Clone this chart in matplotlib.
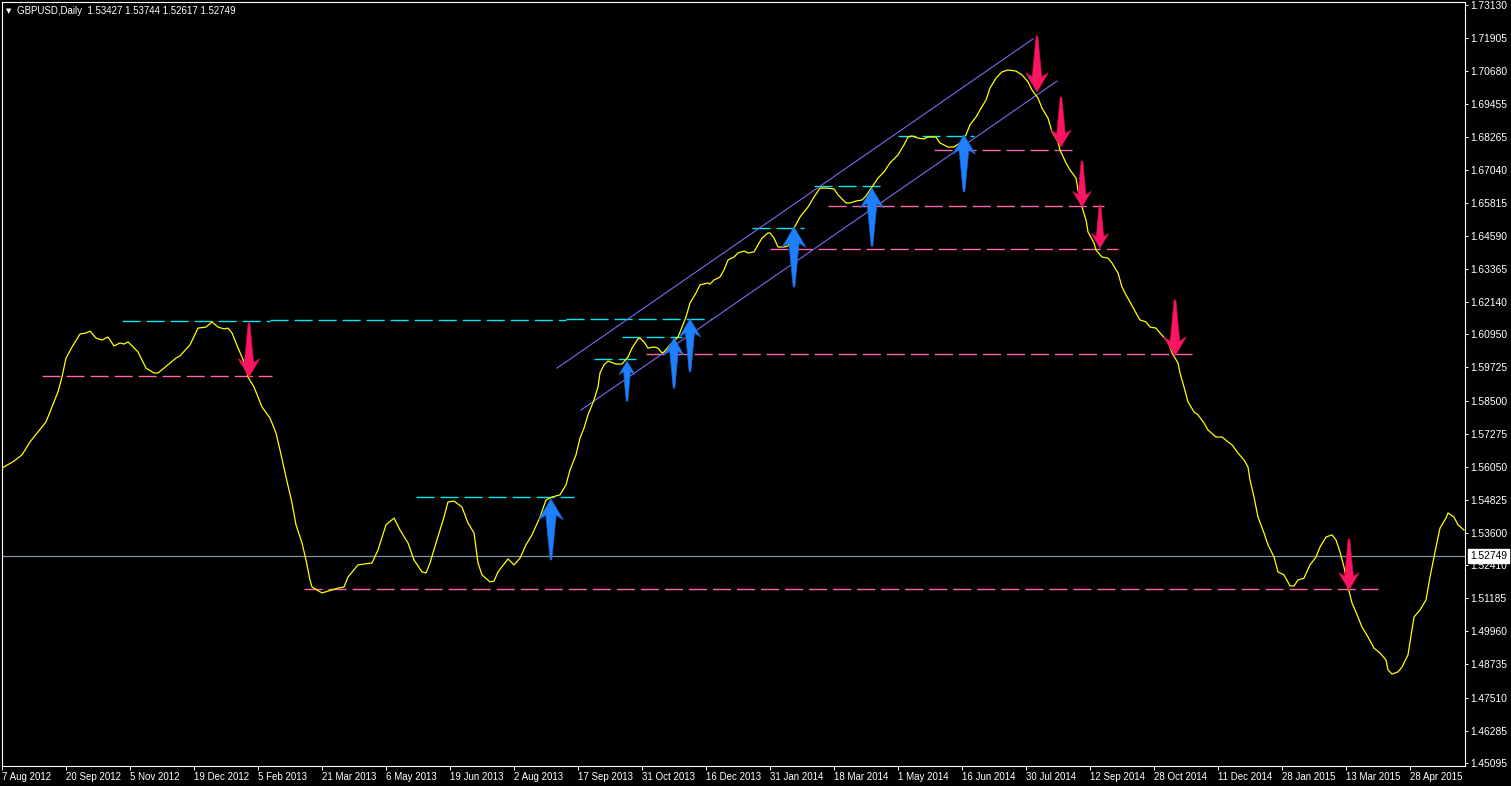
import numpy as np
import matplotlib
matplotlib.use("Agg")
import matplotlib.pyplot as plt
import matplotlib.transforms as mtransforms
from matplotlib.patches import Polygon

plt.rcParams['font.family'] = ['Liberation Sans', 'DejaVu Sans']

# ---------------- data ----------------
# bar index (daily bars since 7 Aug 2012) and smoothed GBPUSD value
bar_idx = [0, 6, 10, 14, 18, 22, 25, 28, 30, 32, 35, 39, 42, 44, 47, 50, 53, 56, 59, 61, 63,
           68, 72, 76, 78, 81, 87, 89, 94, 98, 102, 105, 108, 111, 113, 115, 117, 121, 123, 126,
           130, 134, 137, 139, 142, 145, 147, 150, 152, 154, 155, 160, 165, 168, 171, 173, 178,
           185, 188, 192, 196, 199, 203, 206, 210, 212, 214, 217, 221, 223, 226, 230, 233, 236,
           238, 240, 244, 246, 248, 253, 256, 259, 262, 265, 269, 272, 275, 279, 282, 284, 287,
           289, 291, 293, 296, 298, 299, 301, 303, 307, 310, 313, 315, 318, 319, 321, 323, 326,
           328, 330, 331, 334, 338, 340, 342, 344, 347, 349, 353, 354, 356, 359, 361, 363, 366,
           368, 371, 373, 376, 378, 380, 383, 384, 386, 388, 391, 393, 396, 399, 403, 406, 409,
           412, 416, 418, 422, 424, 427, 430, 432, 435, 438, 441, 444, 448, 451, 453, 455, 458,
           461, 463, 467, 469, 473, 476, 479, 482, 484, 487, 489, 492, 494, 497, 500, 503, 507,
           510, 513, 515, 518, 520, 523, 525, 528, 529, 532, 534, 537, 538, 540, 542, 543, 546,
           547, 550, 553, 555, 558, 560, 562, 564, 567, 569, 572, 574, 577, 579, 583, 585, 588,
           589, 591, 593, 596, 598, 601, 603, 607, 610, 613, 615, 618, 621, 623, 624, 626, 628,
           631, 633, 636, 638, 641, 644, 646, 648, 651, 654, 657, 659, 662, 665, 667, 669, 671,
           673, 675, 678, 680, 683, 686, 689, 692, 693, 695, 698, 700, 703, 706, 709, 712, 714,
           717, 719, 722, 723, 726, 728, 731]
ma_value = [1.5600, 1.5626, 1.5649, 1.5697, 1.5734, 1.5771, 1.5826, 1.5882, 1.5937, 1.6007,
            1.6048, 1.6096, 1.6100, 1.6107, 1.6081, 1.6074, 1.6085, 1.6052, 1.6063, 1.6059,
            1.6067, 1.6030, 1.5970, 1.5952, 1.5952, 1.5970, 1.6007, 1.6015, 1.6056, 1.6118,
            1.6122, 1.6141, 1.6122, 1.6115, 1.6118, 1.6100, 1.6063, 1.5993, 1.5937, 1.5900,
            1.5826, 1.5785, 1.5730, 1.5667, 1.5567, 1.5471, 1.5390, 1.5323, 1.5260, 1.5186,
            1.5160, 1.5138, 1.5149, 1.5156, 1.5160, 1.5197, 1.5242, 1.5249, 1.5297, 1.5390,
            1.5415, 1.5371, 1.5323, 1.5260, 1.5216, 1.5212, 1.5249, 1.5323, 1.5419, 1.5475,
            1.5478, 1.5456, 1.5397, 1.5360, 1.5249, 1.5205, 1.5179, 1.5182, 1.5216, 1.5264,
            1.5242, 1.5267, 1.5316, 1.5353, 1.5419, 1.5482, 1.5493, 1.5501, 1.5538, 1.5593,
            1.5649, 1.5711, 1.5748, 1.5797, 1.5852, 1.5900, 1.5952, 1.5982, 1.5996, 1.5985,
            1.5985, 1.6011, 1.6044, 1.6078, 1.6081, 1.6067, 1.6044, 1.6048, 1.6044, 1.6026,
            1.6030, 1.6056, 1.6085, 1.6122, 1.6159, 1.6211, 1.6248, 1.6278, 1.6285, 1.6281,
            1.6296, 1.6307, 1.6333, 1.6370, 1.6381, 1.6396, 1.6403, 1.6396, 1.6400, 1.6426,
            1.6451, 1.6470, 1.6470, 1.6451, 1.6418, 1.6418, 1.6422, 1.6488, 1.6529, 1.6566,
            1.6603, 1.6636, 1.6636, 1.6633, 1.6611, 1.6581, 1.6581, 1.6588, 1.6592, 1.6607,
            1.6640, 1.6673, 1.6696, 1.6729, 1.6759, 1.6796, 1.6825, 1.6829, 1.6821, 1.6818,
            1.6825, 1.6825, 1.6803, 1.6788, 1.6788, 1.6803, 1.6833, 1.6870, 1.6899, 1.6925,
            1.6962, 1.7006, 1.7043, 1.7066, 1.7073, 1.7069, 1.7055, 1.7029, 1.6999, 1.6969,
            1.6932, 1.6895, 1.6844, 1.6807, 1.6777, 1.6729, 1.6703, 1.6673, 1.6629, 1.6566,
            1.6518, 1.6474, 1.6433, 1.6407, 1.6381, 1.6377, 1.6359, 1.6322, 1.6270, 1.6241,
            1.6215, 1.6174, 1.6148, 1.6141, 1.6122, 1.6118, 1.6100, 1.6067, 1.6026, 1.5989,
            1.5952, 1.5900, 1.5845, 1.5808, 1.5797, 1.5767, 1.5741, 1.5715, 1.5715, 1.5697,
            1.5686, 1.5656, 1.5630, 1.5604, 1.5556, 1.5493, 1.5419, 1.5360, 1.5316, 1.5271,
            1.5216, 1.5205, 1.5164, 1.5164, 1.5186, 1.5193, 1.5242, 1.5271, 1.5308, 1.5345,
            1.5353, 1.5334, 1.5290, 1.5234, 1.5160, 1.5101, 1.5049, 1.5012, 1.4975, 1.4934,
            1.4916, 1.4890, 1.4853, 1.4838, 1.4846, 1.4864, 1.4909, 1.5049, 1.5075, 1.5112,
            1.5197, 1.5308, 1.5378, 1.5415, 1.5434, 1.5419, 1.5390, 1.5371]

date_tick_bars = [0, 32, 64, 96, 128, 160, 192, 224, 256, 288, 320, 352, 384, 416, 448, 480,
                  512, 544, 576, 608, 640, 672, 704]
date_labels = ['7 Aug 2012', '20 Sep 2012', '5 Nov 2012', '19 Dec 2012', '5 Feb 2013',
               '21 Mar 2013', '6 May 2013', '19 Jun 2013', '2 Aug 2013', '17 Sep 2013',
               '31 Oct 2013', '16 Dec 2013', '31 Jan 2014', '18 Mar 2014', '1 May 2014',
               '16 Jun 2014', '30 Jul 2014', '12 Sep 2014', '28 Oct 2014', '11 Dec 2014',
               '28 Jan 2015', '13 Mar 2015', '28 Apr 2015']
price_ticks = [1.73130, 1.71905, 1.70680, 1.69455, 1.68265, 1.67040, 1.65815, 1.64590,
               1.63365, 1.62140, 1.60950, 1.59725, 1.58500, 1.57275, 1.56050, 1.54825,
               1.53600, 1.52410, 1.51185, 1.49960, 1.48735, 1.47510, 1.46285, 1.45095]

current_price = 1.52749
header_text = 'GBPUSD,Daily  1.53427 1.53744 1.52617 1.52749'

# horizontal dashed levels: price, first bar, last bar, kind
level_price = [1.5941, 1.6144, 1.6148, 1.6151, 1.5493, 1.5153, 1.6022, 1.6004, 1.6085,
               1.6488, 1.6411, 1.6644, 1.6570, 1.6829, 1.6777]
level_start = [20, 60, 134, 282, 207, 151, 322, 296, 310, 375, 384, 406, 413, 448, 466]
level_end = [135, 134, 282, 355, 286, 688, 595, 317, 340, 401, 558, 439, 551, 486, 535]
level_kind = ['sup', 'res', 'res', 'res', 'res', 'sup', 'sup', 'res', 'res', 'res', 'sup',
              'res', 'sup', 'res', 'sup']

# channel trend lines: (bar, price) start and end
channel_x0 = [277.5, 289.5]
channel_y0 = [1.5970, 1.5815]
channel_x1 = [515.5, 527.5]
channel_y1 = [1.7188, 1.7032]

# signal arrows: tip bar, tip price
up_arrow_bar = [274.5, 312.5, 336, 344, 396, 435, 481]
up_arrow_price = [1.5486, 1.5996, 1.6081, 1.6152, 1.6492, 1.6636, 1.6833]
down_arrow_bar = [123.5, 517.5, 529.5, 540, 549, 586.5, 673.5]
down_arrow_price = [1.5937, 1.6992, 1.6788, 1.6566, 1.6414, 1.6015, 1.5149]
# arrow lengths in pixels (style)
up_arrow_len = [61, 40, 50, 53, 60, 58, 57]
down_arrow_len = [54, 56, 50, 46, 43, 56, 51]

# ---------------- figure ----------------
W, H = 1511, 786
fig = plt.figure(figsize=(W / 100, H / 100), dpi=100, facecolor='black')
ax = fig.add_axes([2 / W, 20 / H, 1463 / W, 764 / H], facecolor='black')

SUP_COL = '#FF66AA'
RES_COL = '#00E8F0'
for p, s, e, k in zip(level_price, level_start, level_end, level_kind):
    ax.plot([s, e], [p, p], color=SUP_COL if k == 'sup' else RES_COL, lw=1.0,
            dashes=(13, 4.3), zorder=2, solid_capstyle='butt', dash_capstyle='butt')

for x0, y0, x1, y1 in zip(channel_x0, channel_y0, channel_x1, channel_y1):
    ax.plot([x0, x1], [y0, y1], color='#7B68EE', lw=0.8, zorder=2)

ax.axhline(current_price, color='#8090A0', lw=0.9, zorder=1)

ax.plot(bar_idx, ma_value, color='#FFFF00', lw=0.9, zorder=3)


def add_arrow(x, y, length, up, color, edge):
    hw = 0.40 * length
    hl = 0.34 * length
    sw = 0.17 * length
    pts = [(0, 0), (hw / 2, -hl), (sw / 2, -0.78 * hl), (0.8, -length),
           (-0.8, -length), (-sw / 2, -0.78 * hl), (-hw / 2, -hl)]
    if not up:
        pts = [(a, -b) for a, b in pts]
    pts = np.array(pts) / 100.0
    trans = fig.dpi_scale_trans + mtransforms.ScaledTranslation(x, y, ax.transData)
    poly = Polygon(pts, closed=True, transform=trans, facecolor=color,
                   edgecolor=edge, lw=0.5, zorder=6)
    ax.add_patch(poly)


for x, y, L in zip(up_arrow_bar, up_arrow_price, up_arrow_len):
    add_arrow(x, y, L, True, '#1E80FF', '#1866D0')
for x, y, L in zip(down_arrow_bar, down_arrow_price, down_arrow_len):
    add_arrow(x, y, L, False, '#FF1464', '#D01050')

ax.set_xlim(0, 731.5)
ax.set_ylim(1.44978, 1.73246)
ax.autoscale(False)

for sp in ax.spines.values():
    sp.set_color('white')
    sp.set_linewidth(0.8)

ax.yaxis.tick_right()
ax.set_yticks(price_ticks)
ax.set_yticklabels(['%.5f' % v for v in price_ticks])
ax.tick_params(axis='y', direction='out', length=2.5, width=0.7, colors='white',
               pad=1.5, labelsize=7.4)
ax.set_xticks(date_tick_bars)
ax.set_xticklabels(date_labels)
ax.tick_params(axis='x', direction='out', length=3, width=0.7, colors='white',
               pad=1.5, labelsize=7)
for lbl in ax.get_xticklabels():
    lbl.set_horizontalalignment('left')

blend = mtransforms.blended_transform_factory(ax.transAxes, ax.transData)
ax.annotate('%.5f' % current_price, xy=(1.0, current_price), xycoords=blend,
            xytext=(5, 0), textcoords='offset pixels', ha='left', va='center',
            fontsize=7.4, color='black', annotation_clip=False, zorder=10,
            bbox=dict(boxstyle='square,pad=0.15', fc='white', ec='white'))

fig.text(9 / W, 1 - 11 / H, '\u25BC', family='DejaVu Sans', fontsize=5, color='white',
         ha='center', va='center')
fig.text(17 / W, 1 - 11 / H, header_text, fontsize=7, color='white', ha='left',
         va='center')

fig.savefig('out.png', dpi=100, facecolor='black')
